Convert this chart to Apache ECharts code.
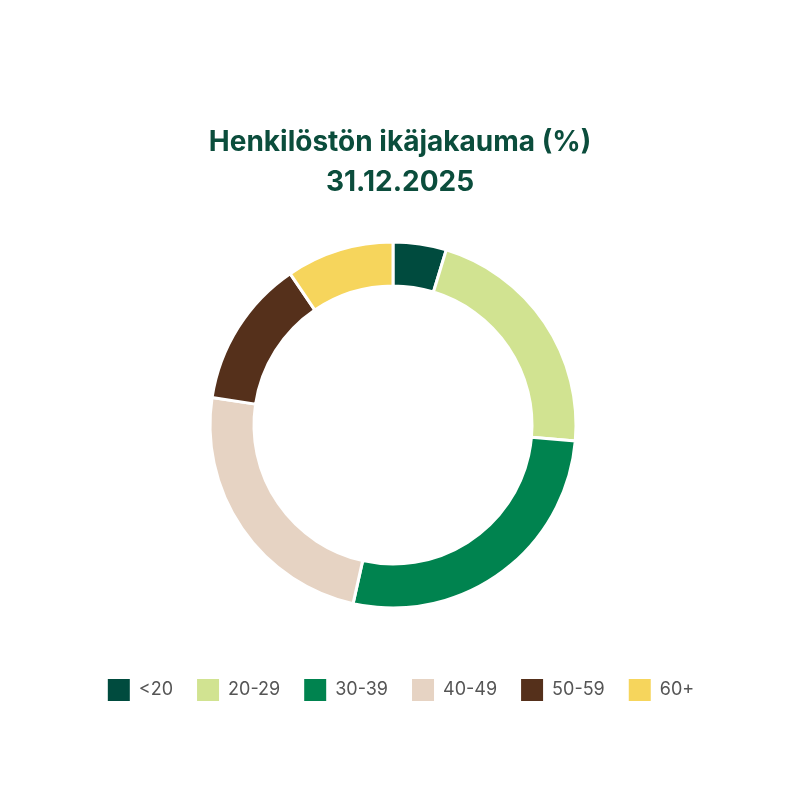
<!DOCTYPE html>
<html>
<head>
<meta charset="utf-8">
<script src="https://cdn.jsdelivr.net/npm/echarts@6/dist/echarts.min.js"></script>
<style>
  html, body { margin: 0; padding: 0; background: #fff; }
  #chart { width: 800px; height: 800px; }
</style>
</head>
<body>
<div id="chart"></div>
<script>
// ikäryhmät ja osuudet (%)
var categories = ['<20', '20-29', '30-39', '40-49', '50-59', '60+'];
var shares = [4.7, 21.7, 27.1, 23.9, 13.1, 9.5];
var colors = ['#004b3e', '#d1e391', '#00834f', '#e6d3c3', '#55301b', '#f6d55c'];

var chart = echarts.init(document.getElementById('chart'));

var pieData = categories.map(function (c, i) {
    return { name: c, value: shares[i], itemStyle: { color: colors[i] } };
});

var option = {
    backgroundColor: '#fff',
    title: {
        text: 'Henkilöstön ikäjakauma (%)\n31.12.2025',
        left: 'center',
        top: 118,
        textStyle: {
            fontFamily: 'Inter',
            fontSize: 28,
            fontWeight: 700,
            lineHeight: 40,
            color: '#0b4d3c'
        }
    },
    legend: {
        bottom: 92,
        left: 'center',
        itemWidth: 24,
        itemHeight: 24,
        itemGap: 22,
        icon: 'rect',
        textStyle: {
            fontFamily: 'Inter',
            fontSize: 18,
            color: '#555',
            padding: [0, 0, 0, 3]
        },
        data: categories
    },
    series: [{
        type: 'pie',
        center: [393, 425],
        radius: [139, 183],
        startAngle: 90,
        clockwise: true,
        label: { show: false },
        labelLine: { show: false },
        emphasis: { disabled: true },
        itemStyle: { borderColor: '#fff', borderWidth: 3 },
        data: pieData
    }]
};

chart.setOption(option);
</script>
</body>
</html>
